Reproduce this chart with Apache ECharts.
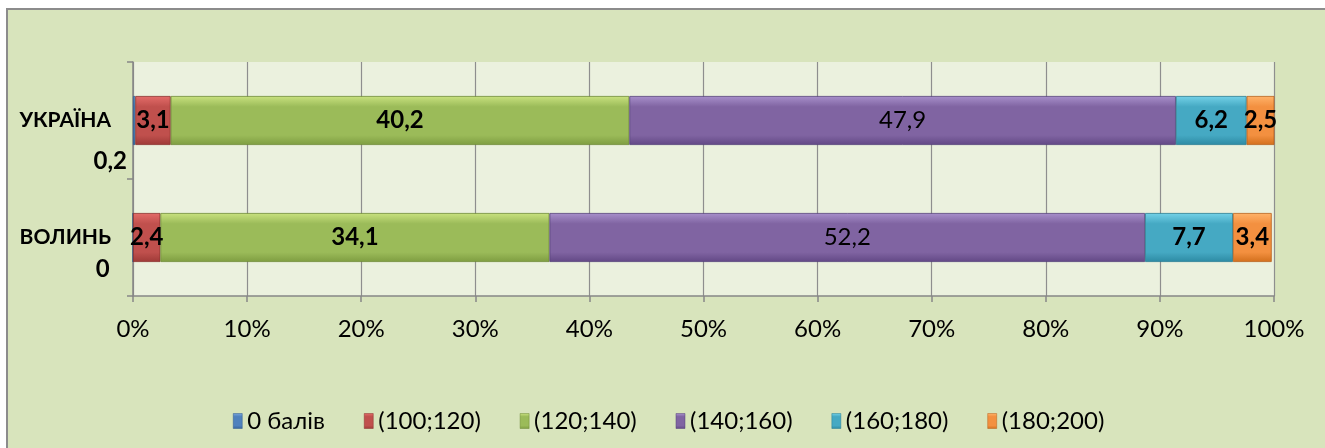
<!DOCTYPE html>
<html>
<head>
<meta charset="utf-8">
<script src="https://cdn.jsdelivr.net/npm/echarts@6/dist/echarts.min.js"></script>
<style>
html,body{margin:0;padding:0;background:#fff;overflow:hidden;}
#chart{width:1325px;height:448px;}
</style>
</head>
<body>
<div id="chart"></div>
<script>
// ---- data ----
const categories = ['ВОЛИНЬ', 'УКРАЇНА'];
const seriesNames = ['0 балів', '(100;120)', '(120;140)', '(140;160)', '(160;180)', '(180;200)'];
const zeroPts   = [0, 0.2];
const s100_120  = [2.4, 3.1];
const s120_140  = [34.1, 40.2];
const s140_160  = [52.2, 47.9];
const s160_180  = [7.7, 6.2];
const s180_200  = [3.4, 2.5];
const xTicks = { min: 0, max: 100, interval: 10 };

// ---- styles ----
const FONT = 'Lato, "Open Sans", sans-serif';
const grads = [
  ['#7AA6DE', '#4F81BD', '#36639B'],
  ['#E46C69', '#C0504D', '#9E3A37'],
  ['#C9E27F', '#9BBB59', '#7E9D41'],
  ['#A890CB', '#8064A2', '#624885'],
  ['#74D2E8', '#45A9C3', '#2D8AA3'],
  ['#FFB36A', '#F39040', '#D26F1C']
];
const borderCols = ['#2E5A8E', '#8A2F2C', '#6E8A36', '#54407A', '#277C93', '#B9611A'];
function grad(c) {
  return new echarts.graphic.LinearGradient(0, 0, 0, 1, [
    { offset: 0, color: c[0] },
    { offset: 0.22, color: c[1] },
    { offset: 0.8, color: c[1] },
    { offset: 1, color: c[2] }
  ]);
}
const zeroLabelOffsets = [[-17, 32], [0, 41]];
const comma = v => String(v).replace('.', ',');

const dataSets = [zeroPts, s100_120, s120_140, s140_160, s160_180, s180_200];

const series = dataSets.map((arr, i) => {
  const s = {
    name: seriesNames[i],
    type: 'bar',
    stack: 'total',
    barWidth: 49,
    itemStyle: { color: grad(grads[i]), borderColor: borderCols[i], borderWidth: 0.8 },
    label: {
      show: i > 0,
      position: 'inside',
      color: '#000',
      fontFamily: FONT,
      fontSize: 24,
      fontWeight: i === 3 ? 'normal' : 'bold',
      formatter: p => comma(p.value)
    },
    emphasis: { disabled: true },
    data: arr.slice()
  };
  if (i === 0) {
    s.data = arr.map((v, k) => ({
      value: v,
      label: { show: true, position: 'left', distance: 6, offset: zeroLabelOffsets[k] }
    }));
  }
  return s;
});

const chart = echarts.init(document.getElementById('chart'), null, { renderer: 'canvas' });
chart.setOption({
  animation: false,
  backgroundColor: '#ffffff',
  graphic: [{
    type: 'rect',
    z: -10,
    silent: true,
    shape: { x: 7, y: 9, width: 1400, height: 500 },
    style: { fill: '#D8E4BC', stroke: '#8C8C8C', lineWidth: 2 }
  }],
  grid: {
    left: 133, right: 51, top: 62, bottom: 152,
    show: true, backgroundColor: '#EBF1DE', borderWidth: 0
  },
  legend: {
    top: 404,
    left: 228,
    icon: 'rect',
    itemWidth: 9,
    itemHeight: 15,
    itemGap: 39,
    textStyle: { fontFamily: FONT, fontSize: 24, color: '#000' },
    data: seriesNames.map((n, i) => ({ name: n, itemStyle: { color: grad(grads[i]), borderColor: borderCols[i], borderWidth: 0.5 } }))
  },
  xAxis: {
    type: 'value',
    min: xTicks.min, max: xTicks.max, interval: xTicks.interval,
    axisLine: { show: true, lineStyle: { color: '#868686', width: 1.5 } },
    axisTick: { show: true, length: 6, lineStyle: { color: '#868686', width: 1.5 } },
    splitLine: { show: true, lineStyle: { color: '#8E8E8E', width: 1.2 } },
    axisLabel: { fontFamily: FONT, fontSize: 24, color: '#000', margin: 21, formatter: v => v + '%' }
  },
  yAxis: {
    type: 'category',
    data: categories,
    axisLine: { show: true, lineStyle: { color: '#868686', width: 1.5 } },
    axisTick: { show: true, length: 6, lineStyle: { color: '#868686', width: 1.5 } },
    axisLabel: { fontFamily: FONT, fontSize: 21, fontWeight: 'bold', color: '#000', margin: 22 }
  },
  series: series
});
</script>
</body>
</html>
